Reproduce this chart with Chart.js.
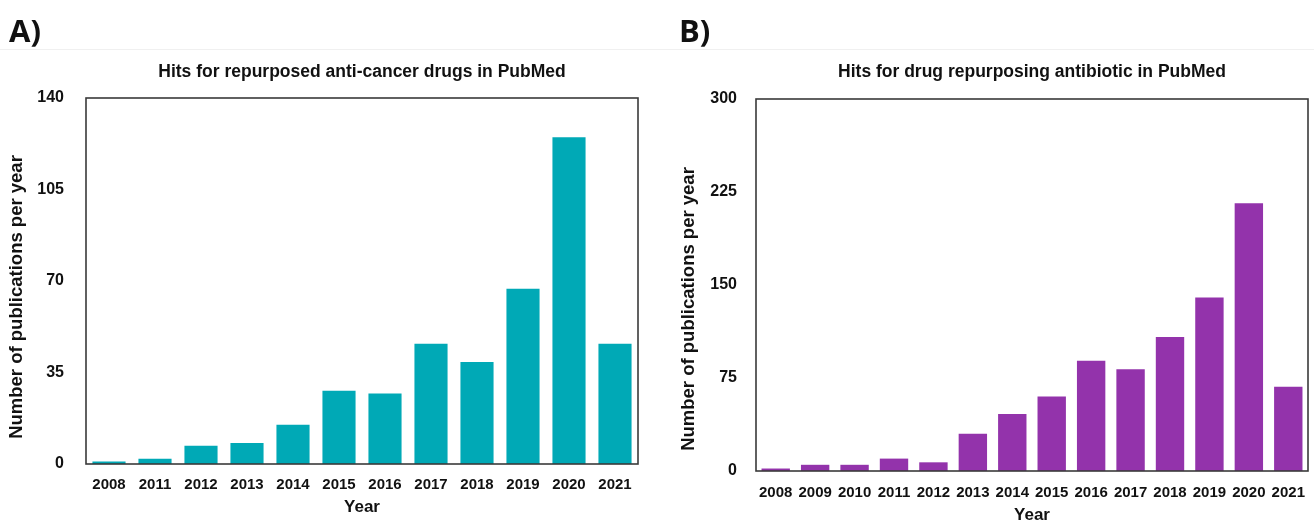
<!DOCTYPE html>
<html>
<head>
<meta charset="utf-8">
<script src="https://cdn.jsdelivr.net/npm/chart.js@4.4.0/dist/chart.umd.min.js"></script>
<style>
  html, body { margin: 0; padding: 0; background: #ffffff; }
  body { width: 1314px; height: 526px; position: relative; overflow: hidden; font-family: "Liberation Sans", Arial, sans-serif; }
  canvas { position: absolute; top: 0; }
  #cA { left: 0; }
  #cB { left: 660px; }
  .panel { position: absolute; font-family: "Open Sans", "Liberation Sans", sans-serif; font-weight: 700; font-size: 31px; color: #111; z-index: 2; line-height: 1; }
  #sep { position: absolute; left: 0; top: 49px; width: 1314px; height: 1px; background: #f0f0f0; }
</style>
</head>
<body>
<div class="panel" style="left:9px; top:15px;">A)</div>
<div class="panel" style="left:679px; top:15px;">B)</div>
<div id="sep"></div>
<canvas id="cA" width="655" height="526"></canvas>
<canvas id="cB" width="659" height="526"></canvas>
<script>
// ---- data ----
const yearsA = ['2008','2011','2012','2013','2014','2015','2016','2017','2018','2019','2020','2021'];
const hitsA  = [1, 2, 7, 8, 15, 28, 27, 46, 39, 67, 125, 46];
const yearsB = ['2008','2009','2010','2011','2012','2013','2014','2015','2016','2017','2018','2019','2020','2021'];
const hitsB  = [2, 5, 5, 10, 7, 30, 46, 60, 89, 82, 108, 140, 216, 68];
const titleA = 'Hits for repurposed anti-cancer drugs in PubMed';
const titleB = 'Hits for drug repurposing antibiotic in PubMed';
const yTitle = 'Number of publications per year';
const xTitle = 'Year';

const FONT = '"Liberation Sans", Arial, sans-serif';

const boxPlugin = {
  id: 'box',
  afterDraw(chart, args, opts) {
    const {ctx, chartArea: a} = chart;
    ctx.save();
    ctx.strokeStyle = '#3a3a3a';
    ctx.lineWidth = 1.6;
    ctx.strokeRect(a.left, a.top, a.right - a.left, a.bottom - a.top);
    // vertical axis title
    ctx.fillStyle = '#111';
    ctx.font = 'bold 18.5px ' + FONT;
    ctx.textAlign = 'center';
    ctx.textBaseline = 'middle';
    ctx.translate(opts.titleX, (a.top + a.bottom) / 2 + opts.titleShift);
    ctx.rotate(-Math.PI / 2);
    ctx.fillText(opts.text, 0, 0);
    ctx.restore();
  }
};

function makeChart(id, labels, values, color, cfg) {
  return new Chart(document.getElementById(id), {
    type: 'bar',
    data: {
      labels: labels,
      datasets: [{ data: values, backgroundColor: color, borderWidth: 0,
                   barPercentage: 0.72, categoryPercentage: 1.0 }]
    },
    options: {
      responsive: false,
      animation: false,
      layout: { padding: { left: 0, right: cfg.padRight, top: 0, bottom: 0 } },
      plugins: {
        legend: { display: false },
        tooltip: { enabled: false },
        title: { display: false },
        box: { text: yTitle, titleX: cfg.yTitleX, titleShift: cfg.yTitleShift }
      },
      scales: {
        top: {
          type: 'category', position: 'top',
          grid: { display: false, drawTicks: false },
          border: { display: false },
          ticks: { display: false },
          title: { display: true, text: cfg.title, color: '#111',
                   font: { family: FONT, size: 17.5, weight: 'bold', lineHeight: 1.2 },
                   padding: { top: 72 - 10.5, bottom: 0 } },
          afterFit(s) { s.height = cfg.top; }
        },
        x: {
          grid: { display: false, drawTicks: false },
          border: { display: false },
          ticks: { color: '#111', font: { family: FONT, size: 15, weight: 'bold' }, padding: cfg.xTickPad, maxRotation: 0, autoSkip: false },
          title: { display: true, text: xTitle, color: '#111', font: { family: FONT, size: 17, weight: 'bold', lineHeight: 1.2 }, padding: { top: 0, bottom: cfg.xTitlePad } },
          afterFit(s) { s.height = cfg.xHeight; }
        },
        y: {
          min: 0, max: cfg.max,
          grid: { display: false, drawTicks: false },
          border: { display: false },
          ticks: { stepSize: cfg.step, color: '#111', font: { family: FONT, size: 16, weight: 'bold' }, padding: cfg.yTickPad },
          afterFit(s) { s.width = cfg.yWidth; }
        }
      }
    },
    plugins: [boxPlugin]
  });
}

makeChart('cA', yearsA, hitsA, '#00A9B6', {
  title: titleA, padRight: 17, top: 98,
  xTickPad: 12, xTitlePad: 8, xHeight: 62,
  max: 140, step: 35, yTickPad: 22, yWidth: 86, yTitleX: 17, yTitleShift: 16
});
makeChart('cB', yearsB, hitsB, '#9333AB', {
  title: titleB, padRight: 11, top: 99,
  xTickPad: 13, xTitlePad: 0, xHeight: 55,
  max: 300, step: 75, yTickPad: 19, yWidth: 96, yTitleX: 29, yTitleShift: 24
});
</script>
</body>
</html>
